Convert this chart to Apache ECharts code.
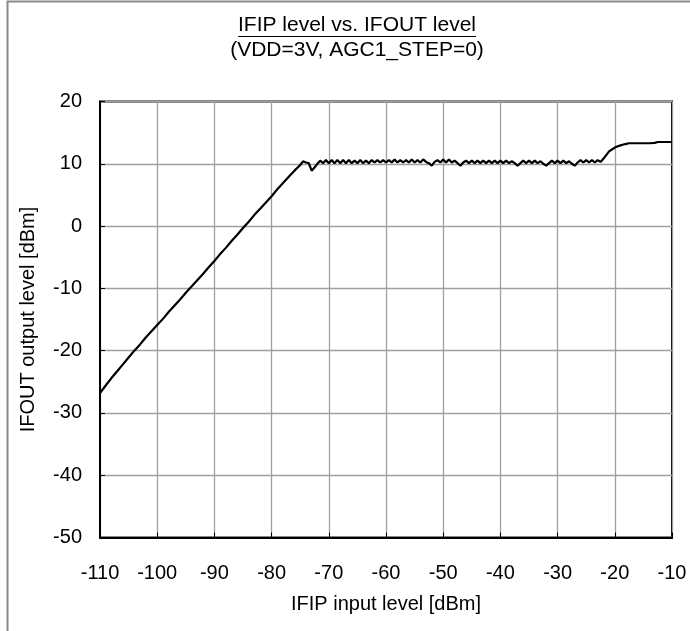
<!DOCTYPE html>
<html>
<head>
<meta charset="utf-8">
<script src="https://cdn.jsdelivr.net/npm/echarts@6/dist/echarts.min.js"></script>
<style>
html,body{margin:0;padding:0;background:#fff;}
#chart{width:690px;height:631px;}
</style>
</head>
<body>
<div id="chart"></div>
<script>
var titleText = 'IFIP level vs. IFOUT level';
var subtitleText = '(VDD=3V, AGC1_STEP=0)';
var xAxisName = 'IFIP input level [dBm]';
var yAxisName = 'IFOUT output level [dBm]';

var inputLevels = [
  -110,-109,-108,-107,-106,-105,-104,-103,-102,-101,
  -100,-99,-98,-97,-96,-95,-94,-93,-92,-91,
  -90,-89,-88,-87,-86,-85,-84,-83,-82,-81,
  -80,-79,-78,-77,-76,-75,-74.5,-74,-73.5,-73,-72.5,-72,
  -71.5,-71,-70.5,-70,-69.5,-69,-68.5,-68,-67.5,-67,
  -66.5,-66,-65.5,-65,-64.5,-64,-63.5,-63,-62.5,-62,
  -61.5,-61,-60.5,-60,-59.5,-59,-58.5,-58,-57.5,-57,
  -56.5,-56,-55.5,-55,-54.5,-54,-53.5,-53,-52.5,-52,
  -51.5,-51,-50.5,-50,-49.5,-49,-48.5,-48,-47.5,-47,
  -46.5,-46,-45.5,-45,-44.5,-44,-43.5,-43,-42.5,-42,
  -41.5,-41,-40.5,-40,-39.5,-39,-38.5,-38,-37.5,-37,
  -36.5,-36,-35.5,-35,-34.5,-34,-33.5,-33,-32.5,-32,
  -31.5,-31,-30.5,-30,-29.5,-29,-28.5,-28,-27.5,-27,
  -26.5,-26,-25.5,-25,-24.5,-24,-23.5,-23,-22.5,
  -22,-21.5,-21,-20.5,-20,-19.5,-19,-18.5,-18,-17.5,
  -17,-16,-15,-14,-13,-12.5,-12,-11,-10
];
var outputLevels = [
  -26.8,-25.6,-24.4,-23.3,-22.2,-21.1,-20.0,-19.0,-17.9,-16.9,
  -15.9,-14.9,-13.8,-12.8,-11.8,-10.7,-9.7,-8.7,-7.7,-6.6,
  -5.6,-4.5,-3.5,-2.4,-1.4,-0.3,0.7,1.8,2.8,3.8,
  4.8,5.9,6.9,7.9,8.9,9.8,10.4,10.2,10.1,8.9,9.4,10.0,
  10.5,10.1,10.6,10.1,10.6,10.1,10.6,10.1,10.6,10.1,
  10.6,10.1,10.5,10.1,10.6,10.1,10.5,10.1,10.6,10.2,
  10.6,10.2,10.6,10.2,10.6,10.2,10.7,10.2,10.6,10.2,
  10.6,10.2,10.7,10.2,10.6,10.2,10.7,10.3,10.1,9.7,
  10.3,10.6,10.2,10.7,10.2,10.7,10.2,10.5,10.1,9.7,
  10.2,10.5,10.1,10.5,10.1,10.5,10.1,10.5,10.1,10.5,
  10.1,10.5,10.1,10.5,10.1,10.5,10.1,10.4,10.1,9.7,
  10.1,10.5,10.1,10.5,10.1,10.5,10.1,10.4,10.0,9.7,
  10.1,10.5,10.1,10.5,10.1,10.5,10.1,10.4,10.0,9.7,
  10.2,10.6,10.2,10.6,10.2,10.6,10.2,10.6,10.3,
  10.8,11.4,12.0,12.3,12.6,12.8,12.95,13.1,13.2,13.3,
  13.3,13.3,13.3,13.3,13.35,13.5,13.5,13.5,13.5
];
var xTicks = {min: -110, max: -10, interval: 10};
var yTicks = {min: -50, max: 20, interval: 10};

var seriesData = inputLevels.map(function (x, i) { return [x, outputLevels[i]]; });

var FONT = '"Liberation Sans", Arial, sans-serif';
var FS = 20;
var TFS = 21;

function measure(text, size) {
  var c = document.createElement('canvas').getContext('2d');
  c.font = size + 'px ' + FONT;
  return c.measureText(text).width;
}
var titleW = measure(titleText, TFS);
var titleCX = 357;

var chart = echarts.init(document.getElementById('chart'), null, {renderer: 'canvas'});
chart.setOption({
  animation: false,
  backgroundColor: '#fff',
  grid: {
    left: 100, right: 18, top: 101.5, bottom: 93.5,
    show: true, borderColor: '#000', borderWidth: 2, backgroundColor: 'transparent',
    containLabel: false
  },
  graphic: [
    {type: 'rect', silent: true, z: -10,
     shape: {x: 7.5, y: 1.5, width: 720, height: 700},
     style: {fill: 'none', stroke: '#8a8a8a', lineWidth: 2}},
    {type: 'text', silent: true, x: titleCX, y: 25,
     style: {text: titleText, font: TFS + 'px ' + FONT, fill: '#000', textAlign: 'center', textVerticalAlign: 'middle'}},
    {type: 'line', silent: true,
     shape: {x1: titleCX - titleW / 2, y1: 36.5, x2: titleCX + titleW / 2, y2: 36.5},
     style: {stroke: '#000', lineWidth: 1}},
    {type: 'text', silent: true, x: titleCX, y: 50,
     style: {text: subtitleText, font: TFS + 'px ' + FONT, fill: '#000', textAlign: 'center', textVerticalAlign: 'middle'}}
  ],
  xAxis: {
    type: 'value', min: xTicks.min, max: xTicks.max, interval: xTicks.interval,
    name: xAxisName, nameLocation: 'middle', nameGap: 57,
    nameTextStyle: {fontFamily: FONT, fontSize: FS, color: '#000'},
    axisLine: {show: true, onZero: false, lineStyle: {color: '#000', width: 2}},
    axisTick: {show: true, inside: true, length: 5, lineStyle: {color: '#000', width: 1}},
    axisLabel: {fontFamily: FONT, fontSize: FS, color: '#000', margin: 26},
    splitLine: {show: true, lineStyle: {color: '#a0a0a0', width: 1.3}}
  },
  yAxis: {
    type: 'value', min: yTicks.min, max: yTicks.max, interval: yTicks.interval,
    name: yAxisName, nameLocation: 'middle', nameGap: 62,
    nameTextStyle: {fontFamily: FONT, fontSize: FS, color: '#000'},
    axisLine: {show: true, onZero: false, lineStyle: {color: '#000', width: 2}},
    axisTick: {show: true, inside: true, length: 5, lineStyle: {color: '#000', width: 1}},
    axisLabel: {fontFamily: FONT, fontSize: FS, color: '#000', margin: 18},
    splitLine: {show: true, lineStyle: {color: '#a0a0a0', width: 1.3}}
  },
  series: [{
    type: 'line', data: seriesData, showSymbol: false, symbol: 'none',
    lineStyle: {color: '#000', width: 2.2}, clip: true
  }]
});
</script>
</body>
</html>
